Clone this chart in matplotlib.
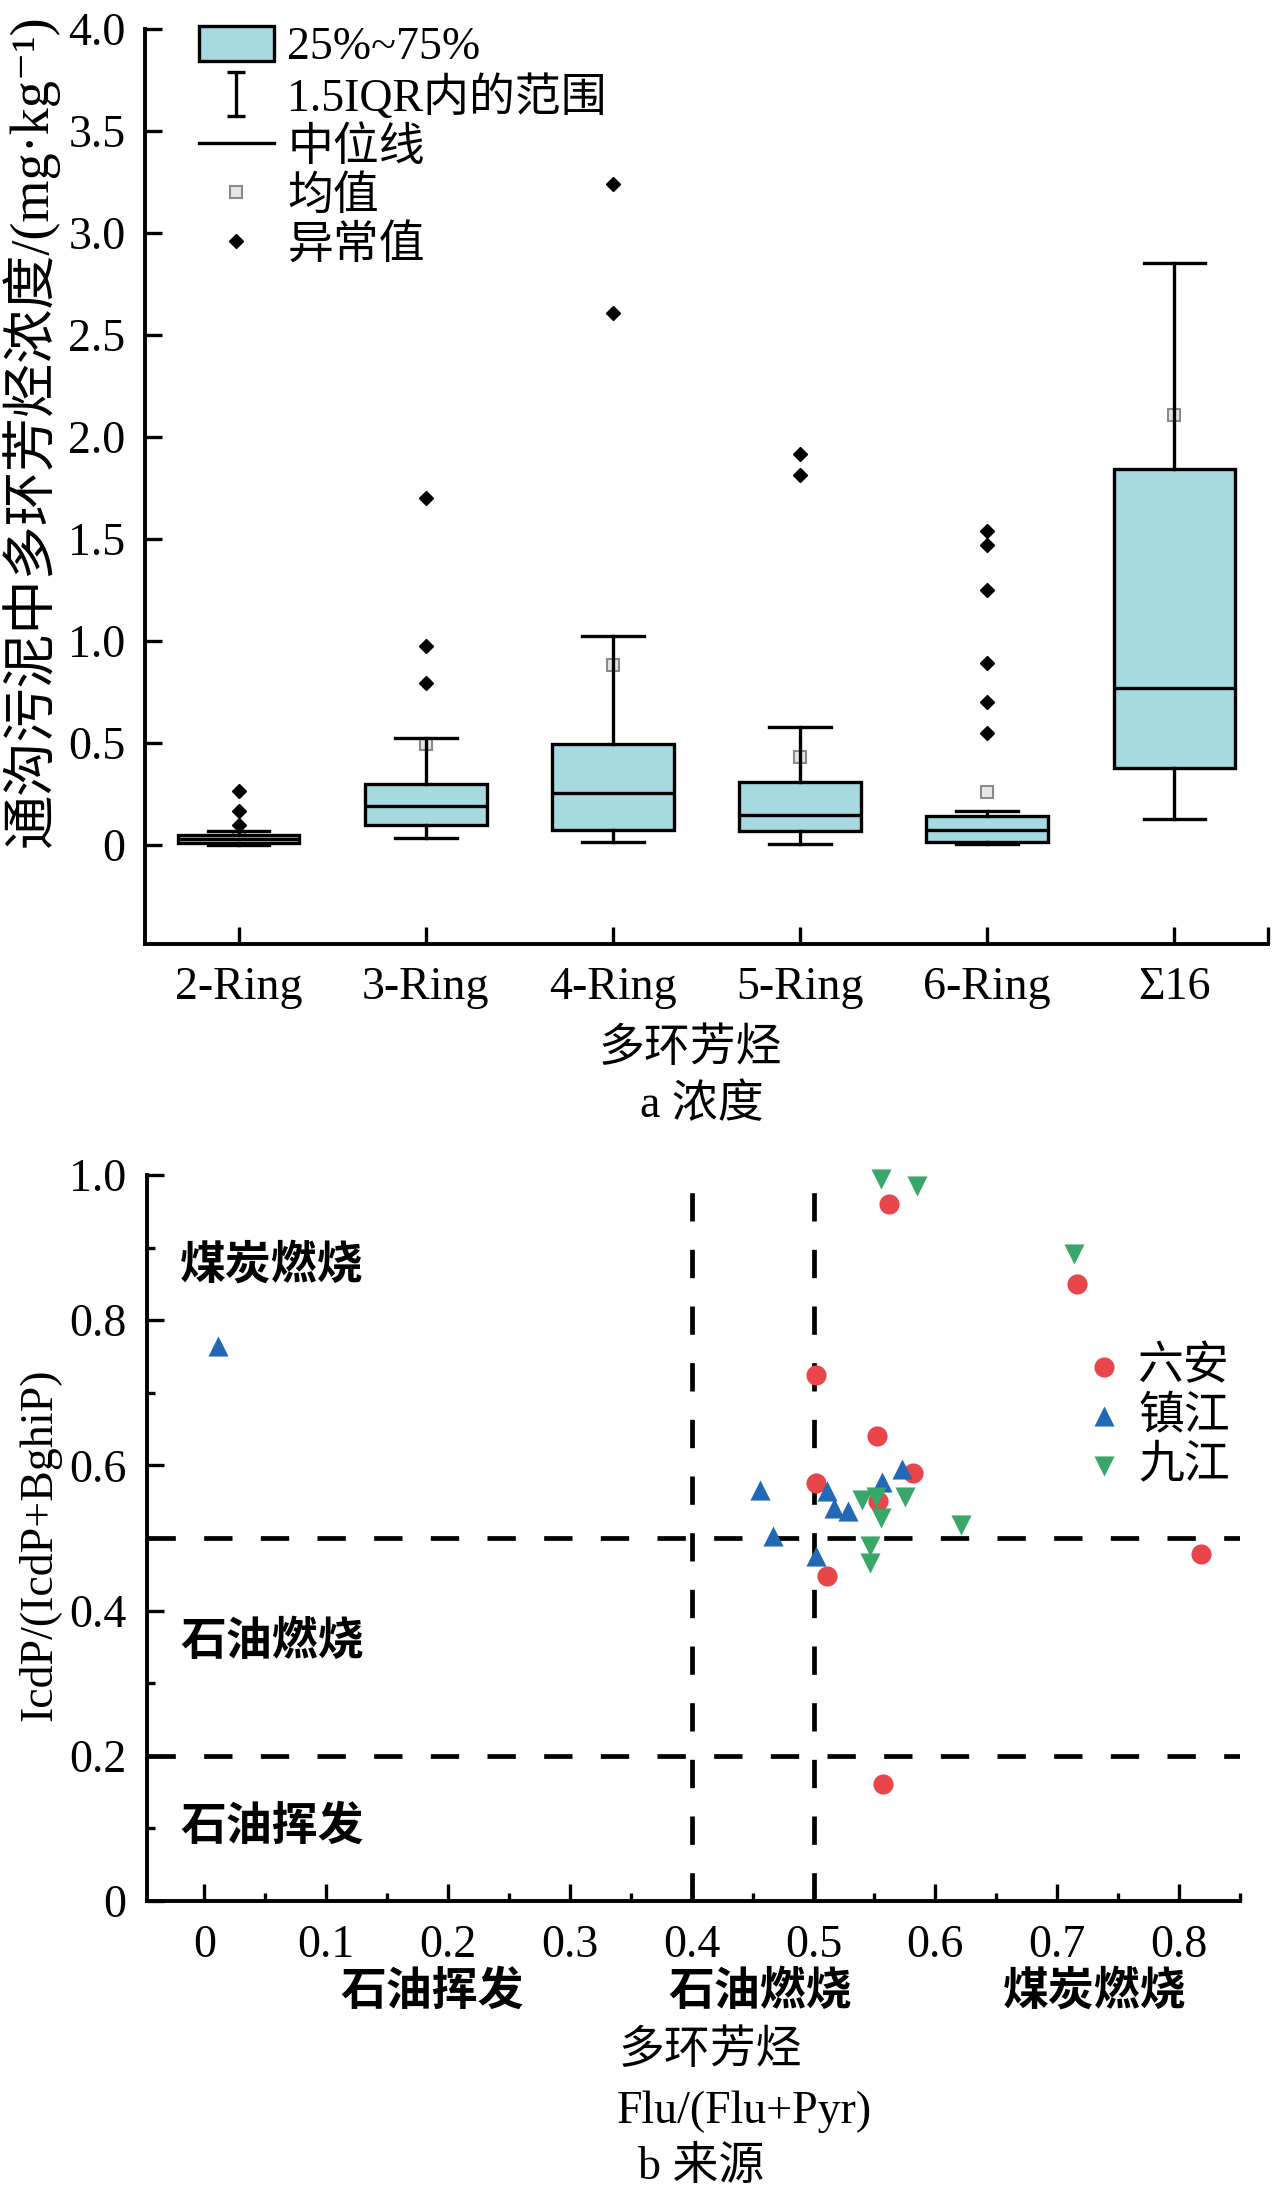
import matplotlib
matplotlib.use("Agg")
import matplotlib.pyplot as plt
from matplotlib.patches import Patch
from matplotlib.lines import Line2D
from matplotlib.path import Path

plt.rcParams['font.family'] = ['Liberation Serif', 'Noto Sans CJK SC', 'DejaVu Serif']
plt.rcParams['axes.unicode_minus'] = False

# ---------------- data: panel a (box plot) ----------------
categories = ['2-Ring', '3-Ring', '4-Ring', '5-Ring', '6-Ring', 'Σ16']
q1 = [0.008, 0.098, 0.073, 0.068, 0.014, 0.377]
medians = [0.028, 0.193, 0.253, 0.149, 0.073, 0.771]
q3 = [0.049, 0.297, 0.493, 0.307, 0.144, 1.843]
whisker_low = [0.0, 0.036, 0.015, 0.006, 0.003, 0.127]
whisker_high = [0.069, 0.523, 1.026, 0.577, 0.169, 2.853]
means = [0.035, 0.493, 0.883, 0.433, 0.259, 2.110]
outliers = [
    [0.098, 0.167, 0.265],
    [0.794, 0.975, 1.70],
    [2.61, 3.24],
    [1.815, 1.919],
    [0.549, 0.703, 0.892, 1.252, 1.469, 1.54],
    [],
]
y_ticks_a = [0, 0.5, 1.0, 1.5, 2.0, 2.5, 3.0, 3.5, 4.0]
y_ticklabels_a = ['0', '0.5', '1.0', '1.5', '2.0', '2.5', '3.0', '3.5', '4.0']
legend_labels_a = ['25%~75%', '1.5IQR内的范围', '中位线', '均值', '异常值']

# ---------------- data: panel b (scatter) ----------------
liuan_x = [0.562, 0.716, 0.502, 0.552, 0.582, 0.502, 0.553, 0.511, 0.818, 0.557]
liuan_y = [0.960, 0.850, 0.725, 0.641, 0.590, 0.576, 0.551, 0.448, 0.478, 0.161]
zhenjiang_x = [0.011, 0.456, 0.467, 0.502, 0.511, 0.517, 0.528, 0.556, 0.573]
zhenjiang_y = [0.764, 0.566, 0.503, 0.475, 0.565, 0.541, 0.537, 0.577, 0.595]
jiujiang_x = [0.555, 0.585, 0.714, 0.540, 0.551, 0.575, 0.555, 0.621, 0.546, 0.546]
jiujiang_y = [0.995, 0.985, 0.891, 0.552, 0.557, 0.556, 0.527, 0.518, 0.489, 0.466]
series_names = ['六安', '镇江', '九江']
threshold_x = [0.4, 0.5]
threshold_y = [0.2, 0.5]
x_ticks_b = [0, 0.1, 0.2, 0.3, 0.4, 0.5, 0.6, 0.7, 0.8]
x_ticklabels_b = ['0', '0.1', '0.2', '0.3', '0.4', '0.5', '0.6', '0.7', '0.8']
y_ticks_b = [0, 0.2, 0.4, 0.6, 0.8, 1.0]
y_ticklabels_b = ['0', '0.2', '0.4', '0.6', '0.8', '1.0']

# ---------------- figure ----------------
W, H = 1280, 2199
fig = plt.figure(figsize=(W / 100, H / 100), dpi=100)
FS = 33
BOX_COLOR = '#A6DAE0'
LW = 2.4


def fx(px):
    return px / W


def fy(py):
    return 1 - py / H


# ---- panel a ----
ax1 = fig.add_axes([fx(145), fy(944), (1268 - 145) / W, (944 - 29) / H])
stats = []
for i in range(len(categories)):
    stats.append(dict(med=medians[i], q1=q1[i], q3=q3[i], whislo=whisker_low[i],
                      whishi=whisker_high[i], mean=means[i], fliers=outliers[i],
                      label=categories[i]))
ax1.bxp(stats, positions=range(1, len(categories) + 1), widths=0.65, capwidths=0.33,
        patch_artist=True, showmeans=True, showfliers=True,
        boxprops=dict(facecolor=BOX_COLOR, edgecolor='black', linewidth=LW),
        medianprops=dict(color='black', linewidth=LW),
        whiskerprops=dict(color='black', linewidth=LW),
        capprops=dict(color='black', linewidth=LW),
        meanprops=dict(marker='s', markerfacecolor='#e6e6e6', markeredgecolor='#8a8a8a',
                       markersize=8, markeredgewidth=1.5, zorder=1.5),
        flierprops=dict(marker='D', markerfacecolor='black', markeredgecolor='black',
                        markersize=7))
ax1.set_xlim(0.5, 6.5)
ax1.set_ylim(-0.485, 4.0)
ax1.set_yticks(y_ticks_a)
ax1.set_yticklabels(y_ticklabels_a)
ax1.set_xticks(range(1, len(categories) + 1))
ax1.set_xticklabels(categories)
ax1.set_xticks([6.5], minor=True)
for s in ['top', 'right']:
    ax1.spines[s].set_visible(False)
for s in ['left', 'bottom']:
    ax1.spines[s].set_linewidth(2.8)
ax1.tick_params(which='major', direction='in', length=12, width=2.4, labelsize=FS, pad=14)
ax1.tick_params(axis='x', which='major', pad=16)
ax1.tick_params(which='minor', direction='in', length=12, width=2.4)

# I-shaped whisker legend marker
i_path = Path([(-0.4, -1), (0.4, -1), (0, -1), (0, 1), (-0.4, 1), (0.4, 1)],
              [Path.MOVETO, Path.LINETO, Path.MOVETO, Path.LINETO, Path.MOVETO, Path.LINETO])
handles_a = [
    Patch(facecolor=BOX_COLOR, edgecolor='black', linewidth=LW),
    Line2D([], [], linestyle='none', marker=i_path, markersize=31, markeredgewidth=2.4,
           color='black', markerfacecolor='none'),
    Line2D([], [], color='black', linewidth=LW),
    Line2D([], [], linestyle='none', marker='s', markerfacecolor='#e6e6e6',
           markeredgecolor='#8a8a8a', markersize=8, markeredgewidth=1.5),
    Line2D([], [], linestyle='none', marker='D', color='black', markersize=7),
]
leg1 = ax1.legend(handles_a, legend_labels_a, loc='upper left',
                  bbox_to_anchor=(fx(199), fy(26)), bbox_transform=fig.transFigure,
                  frameon=False, fontsize=FS, handlelength=1.63, handleheight=0.8,
                  handletextpad=0.3, labelspacing=0.12, borderpad=0, borderaxespad=0)

fig.text(fx(30), fy(431), '通沟污泥中多环芳烃浓度/(mg·kg⁻¹)', rotation=90,
         ha='center', va='center', fontsize=39)
fig.text(fx(690), fy(1050), '多环芳烃', ha='center', va='center', fontsize=FS)
fig.text(fx(702), fy(1106), 'a 浓度', ha='center', va='center', fontsize=FS)

# ---- panel b ----
ax2 = fig.add_axes([fx(147), fy(1901), (1240 - 147) / W, (1901 - 1175) / H])
dash_kw = dict(color='black', linewidth=3.4, dashes=(6, 6), zorder=1)
for xv in threshold_x:
    ax2.axvline(xv, **dash_kw)
for yv in threshold_y:
    ax2.axhline(yv, **dash_kw)
MS = 210
ax2.scatter(liuan_x, liuan_y, s=MS, marker='o', color='#E9464B', label=series_names[0],
            zorder=3, clip_on=False, linewidths=0)
ax2.scatter(zhenjiang_x, zhenjiang_y, s=MS, marker='^', color='#2169B4', label=series_names[1],
            zorder=3, clip_on=False, linewidths=0)
ax2.scatter(jiujiang_x, jiujiang_y, s=MS, marker='v', color='#3AA76A', label=series_names[2],
            zorder=3, clip_on=False, linewidths=0)
ax2.set_xlim(-0.047, 0.85)
ax2.set_ylim(0, 1.0)
ax2.set_xticks(x_ticks_b)
ax2.set_xticklabels(x_ticklabels_b)
ax2.set_yticks(y_ticks_b)
ax2.set_yticklabels(y_ticklabels_b)
ax2.set_xticks([0.05, 0.15, 0.25, 0.35, 0.45, 0.55, 0.65, 0.75, 0.85], minor=True)
ax2.set_yticks([0.1, 0.3, 0.5, 0.7, 0.9], minor=True)
for s in ['top', 'right']:
    ax2.spines[s].set_visible(False)
for s in ['left', 'bottom']:
    ax2.spines[s].set_linewidth(2.8)
ax2.tick_params(which='major', direction='in', length=12, width=2.4, labelsize=FS, pad=15)
ax2.tick_params(axis='x', which='major', pad=17)
ax2.tick_params(which='minor', direction='in', length=6, width=2.4)

ax2.legend(loc='center left', bbox_to_anchor=(fx(1090), fy(1417)), bbox_transform=fig.transFigure,
           frameon=False, fontsize=FS, handlelength=0.6, handletextpad=0.45,
           labelspacing=0.15, borderpad=0, borderaxespad=0, scatterpoints=1)

region_kw = dict(fontsize=FS, ha='left', va='center', fontweight='bold')
fig.text(fx(180), fy(1267), '煤炭燃烧', **region_kw)
fig.text(fx(180), fy(1643), '石油燃烧', **region_kw)
fig.text(fx(180), fy(1828), '石油挥发', **region_kw)
bottom_kw = dict(fontsize=FS, ha='center', va='center', fontweight='bold')
fig.text(fx(432), fy(1993), '石油挥发', **bottom_kw)
fig.text(fx(760), fy(1993), '石油燃烧', **bottom_kw)
fig.text(fx(1095), fy(1993), '煤炭燃烧', **bottom_kw)
fig.text(fx(710), fy(2052), '多环芳烃', ha='center', va='center', fontsize=FS)
fig.text(fx(744), fy(2112), 'Flu/(Flu+Pyr)', ha='center', va='center', fontsize=FS)
fig.text(fx(701), fy(2168), 'b 来源', ha='center', va='center', fontsize=FS)
fig.text(fx(40), fy(1545), 'IcdP/(IcdP+BghiP)', rotation=90, ha='center', va='center', fontsize=FS)

fig.savefig('out.png', dpi=100)
